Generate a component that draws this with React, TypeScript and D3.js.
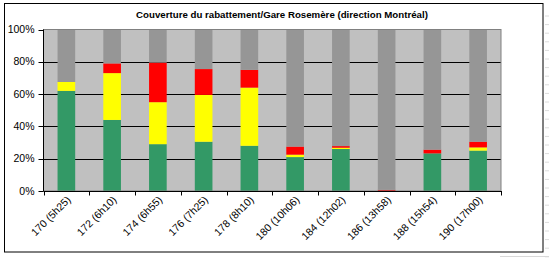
import React from "react";
import * as d3 from "d3";

const categories = ["170 (5h25)", "172 (6h10)", "174 (6h55)", "176 (7h25)", "178 (8h10)", "180 (10h06)", "184 (12h02)", "186 (13h58)", "188 (15h54)", "190 (17h00)"];
const greenValues = [62, 44, 29, 30.5, 28, 21, 26, 0, 23.3, 25];
const yellowValues = [5.5, 29, 26, 29, 36, 1.5, 0.8, 0, 0, 2];
const redValues = [0, 6, 24.5, 16, 11, 5, 1, 0.7, 2.3, 3.5];
const grayValues = categories.map((_, i) => 100 - greenValues[i] - yellowValues[i] - redValues[i]);
const yTicks = [0, 20, 40, 60, 80, 100];
const title = "Couverture du rabattement/Gare Rosemère (direction Montréal)";

const seriesKeys = ["green", "yellow", "red", "gray"];
const colors: Record<string, string> = { green: "#339966", yellow: "#FFFF00", red: "#FF0000", gray: "#969696" };

export default function App() {
  const W = 549, H = 259;
  const left = 43.5, right = 501, top = 29.5, bottom = 191;
  const x = d3.scaleBand<string>().domain(categories).range([left, right]).padding(0);
  const y = d3.scaleLinear().domain([0, 100]).range([bottom, top]);
  const rows = categories.map((c, i) => ({ cat: c, green: greenValues[i], yellow: yellowValues[i], red: redValues[i], gray: grayValues[i] }));
  const stacked = d3.stack<any>().keys(seriesKeys)(rows);
  const bw = x.bandwidth();
  const barW = bw * 0.386;
  const font = "Arial, 'Liberation Sans', sans-serif";

  return (
    <svg width={W} height={H} style={{ position: "absolute", left: 0, top: 0, background: "#fff" }}>
      {d3.range(0, 30).map(i => (
        <line key={"sg" + i} x1={545} x2={549} y1={16 + i * 8.6} y2={16 + i * 8.6} stroke="#dcdcdc" strokeWidth={1} />
      ))}
      <line x1={500} x2={549} y1={256.5} y2={256.5} stroke="#d8d8d8" />
      <rect x={4.5} y={3.5} width={538.5} height={248.5} fill="#fff" stroke="#000" strokeWidth={1} />
      <text x={282} y={18} textAnchor="middle" fontFamily={font} fontWeight="bold" fontSize={9.7} fill="#000">{title}</text>
      <rect x={left} y={top} width={right - left} height={bottom - top} fill="#C0C0C0" />
      {yTicks.filter(t => t > 0 && t < 100).map(t => (
        <line key={"g" + t} x1={left} x2={right} y1={Math.round(y(t)) + 0.5} y2={Math.round(y(t)) + 0.5} stroke="#000" strokeWidth={1} />
      ))}
      {stacked.map(s => (
        <g key={s.key} fill={colors[s.key]}>
          {s.map((d, i) => {
            const h = y(d[0]) - y(d[1]);
            if (h <= 0) return null;
            return <rect key={i} x={(x(categories[i]) as number) + (bw - barW) / 2} y={y(d[1])} width={barW} height={h} />;
          })}
        </g>
      ))}
      <rect x={left} y={top} width={right - left} height={bottom - top} fill="none" stroke="#808080" strokeWidth={1} />
      <line x1={left} x2={left} y1={top} y2={bottom} stroke="#000" />
      <line x1={left} x2={right} y1={bottom + 0.5} y2={bottom + 0.5} stroke="#000" />
      {yTicks.map(t => (
        <g key={"yt" + t}>
          <line x1={left - 5} x2={left} y1={Math.round(y(t)) + 0.5} y2={Math.round(y(t)) + 0.5} stroke="#000" />
          <text x={34.5} y={y(t) + 3.5} textAnchor="end" fontFamily={font} fontSize={10.5} fill="#000">{t + "%"}</text>
        </g>
      ))}
      {categories.map((c, i) => (
        <line key={"xt" + i} x1={Math.round(x(c) as number) + 0.5} x2={Math.round(x(c) as number) + 0.5} y1={bottom} y2={bottom + 4.5} stroke="#000" />
      ))}
      <line x1={Math.round(right) + 0.5} x2={Math.round(right) + 0.5} y1={bottom} y2={bottom + 4.5} stroke="#000" />
      {categories.map((c, i) => {
        const cx = (x(c) as number) + bw / 2 + 5;
        const cy = 200.5;
        return (
          <text key={"xl" + i} transform={`translate(${cx},${cy}) rotate(-45)`} textAnchor="end" fontFamily={font} fontSize={10.5} fill="#000">{c}</text>
        );
      })}
    </svg>
  );
}
